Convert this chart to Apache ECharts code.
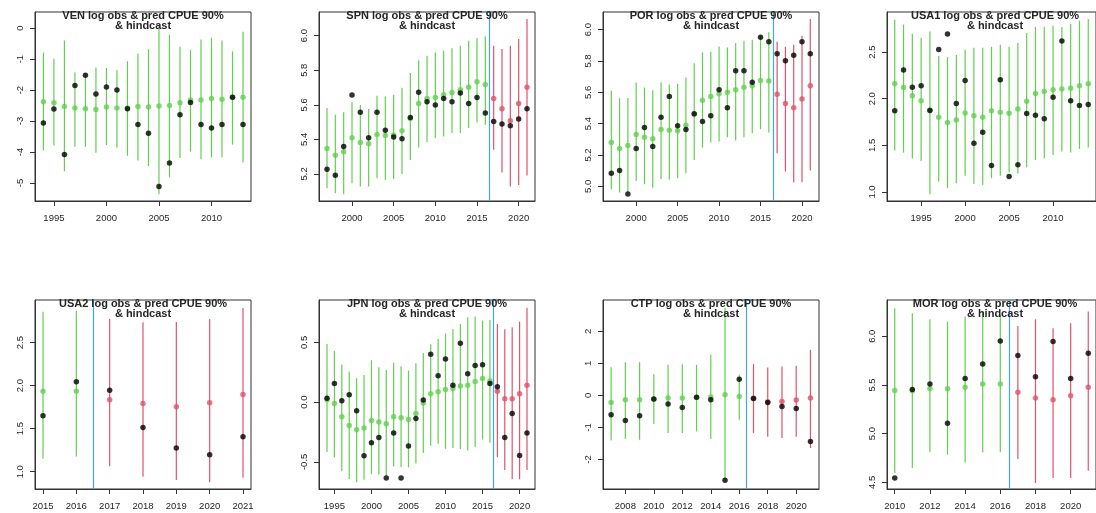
<!DOCTYPE html>
<html>
<head>
<meta charset="utf-8">
<script src="https://cdn.jsdelivr.net/npm/echarts@6/dist/echarts.min.js"></script>
<style>
  html, body { margin: 0; padding: 0; background: #ffffff; }
  #chart { width: 1096px; height: 513px; }
</style>
</head>
<body>
<div id="chart"></div>
<script>
// ---- VEN ----
const VEN_YEARS = [1994,1995,1996,1997,1998,1999,2000,2001,2002,2003,2004,2005,2006,2007,2008,2009,2010,2011,2012,2013];
const VEN_OBS  = [-3.06,-2.61,-4.08,-1.85,-1.52,-2.13,-1.90,-2.00,-2.60,-3.11,-3.39,-5.11,-4.35,-2.80,-2.40,-3.11,-3.22,-3.11,-2.23,-3.11];
const VEN_PRED = [-2.38,-2.41,-2.53,-2.58,-2.60,-2.63,-2.55,-2.58,-2.58,-2.53,-2.55,-2.51,-2.50,-2.41,-2.32,-2.32,-2.27,-2.30,-2.23,-2.23];
const VEN_LO   = [-3.95,-3.79,-4.62,-3.83,-3.83,-4.02,-3.77,-3.86,-4.12,-4.27,-4.45,-5.36,-4.82,-4.19,-3.99,-4.23,-4.17,-4.17,-3.76,-4.34];
const VEN_HI   = [-0.79,-0.99,-0.40,-1.43,-1.45,-1.27,-1.29,-1.35,-1.07,-0.82,-0.68,0.06,-0.22,-0.60,-0.70,-0.37,-0.31,-0.40,-0.75,-0.12];
const VEN_X_TICKS = [1995,2000,2005,2010];
const VEN_Y_TICKS = [-5,-4,-3,-2,-1,0];

// ---- SPN ----
const SPN_YEARS = [1997,1998,1999,2000,2001,2002,2003,2004,2005,2006,2007,2008,2009,2010,2011,2012,2013,2014,2015,2016,2017,2018,2019,2020,2021];
const SPN_OBS  = [5.227,5.192,5.358,5.656,5.557,5.409,5.557,5.453,5.414,5.403,5.527,5.673,5.617,5.598,5.637,5.617,5.668,5.608,5.642,5.552,5.503,5.488,5.478,5.517,5.577];
const SPN_PRED = [5.347,5.308,5.328,5.409,5.382,5.374,5.428,5.422,5.425,5.449,5.520,5.608,5.637,5.642,5.658,5.671,5.687,5.702,5.733,5.718,5.637,5.577,5.507,5.608,5.702];
const SPN_LO   = [5.117,5.088,5.082,5.146,5.127,5.127,5.175,5.165,5.171,5.200,5.281,5.353,5.384,5.407,5.416,5.436,5.436,5.465,5.498,5.484,5.339,5.208,5.127,5.136,5.190];
const SPN_HI   = [5.581,5.542,5.557,5.617,5.598,5.577,5.652,5.648,5.658,5.698,5.784,5.857,5.884,5.903,5.913,5.927,5.942,5.971,5.986,5.996,5.942,5.923,5.942,5.981,6.097];
const SPN_X_TICKS = [2000,2005,2010,2015,2020];
const SPN_Y_TICKS = [5.2,5.4,5.6,5.8,6.0];

// ---- POR ----
const POR_YEARS = [1997,1998,1999,2000,2001,2002,2003,2004,2005,2006,2007,2008,2009,2010,2011,2012,2013,2014,2015,2016,2017,2018,2019,2020,2021];
const POR_OBS  = [5.083,5.100,4.951,5.241,5.375,5.254,5.441,5.574,5.386,5.362,5.463,5.414,5.450,5.616,5.501,5.738,5.738,5.665,5.951,5.923,5.846,5.802,5.836,5.923,5.846];
const POR_PRED = [5.279,5.241,5.260,5.330,5.313,5.303,5.362,5.358,5.354,5.390,5.460,5.550,5.574,5.591,5.601,5.616,5.633,5.642,5.676,5.672,5.588,5.529,5.501,5.557,5.642];
const POR_LO   = [4.981,4.960,4.960,5.034,5.013,4.991,5.047,5.041,5.051,5.083,5.168,5.247,5.279,5.286,5.313,5.292,5.313,5.339,5.365,5.343,5.211,5.094,5.026,5.026,5.100];
const POR_HI   = [5.610,5.563,5.563,5.663,5.631,5.614,5.665,5.650,5.655,5.695,5.785,5.855,5.859,5.893,5.887,5.915,5.930,5.936,5.966,5.983,5.923,5.891,5.904,5.962,6.068];
const POR_X_TICKS = [2000,2005,2010,2015,2020];
const POR_Y_TICKS = [5.0,5.2,5.4,5.6,5.8,6.0];

// ---- USA1 ----
const USA1_YEARS = [1992,1993,1994,1995,1996,1997,1998,1999,2000,2001,2002,2003,2004,2005,2006,2007,2008,2009,2010,2011,2012,2013,2014];
const USA1_OBS  = [1.870,2.307,2.124,2.138,1.873,2.529,2.693,1.949,2.196,1.523,1.641,1.283,2.203,1.165,1.293,1.841,1.823,1.784,2.017,2.618,1.977,1.927,1.938];
const USA1_PRED = [2.160,2.120,2.031,1.977,1.880,1.802,1.745,1.773,1.848,1.816,1.802,1.870,1.856,1.845,1.891,1.974,2.056,2.078,2.095,2.103,2.113,2.138,2.160];
const USA1_LO   = [1.444,1.422,1.358,1.333,0.975,1.111,1.039,1.093,1.175,1.086,1.075,1.147,1.175,1.211,1.197,1.265,1.344,1.361,1.397,1.433,1.422,1.462,1.476];
const USA1_HI   = [2.847,2.794,2.697,2.654,2.722,2.457,2.446,2.468,2.525,2.547,2.547,2.557,2.579,2.557,2.597,2.704,2.769,2.769,2.783,2.769,2.804,2.837,2.854];
const USA1_X_TICKS = [1995,2000,2005,2010];
const USA1_Y_TICKS = [1.0,1.5,2.0,2.5];

// ---- USA2 ----
const USA2_YEARS = [2015,2016,2017,2018,2019,2020,2021];
const USA2_OBS  = [1.650,2.044,1.947,1.514,1.275,1.197,1.406];
const USA2_PRED = [1.936,1.936,1.835,1.793,1.754,1.800,1.897];
const USA2_LO   = [1.151,1.178,1.062,0.942,0.904,0.877,0.931];
const USA2_HI   = [2.859,2.871,2.774,2.736,2.740,2.774,2.902];
const USA2_X_TICKS = [2015,2016,2017,2018,2019,2020,2021];
const USA2_Y_TICKS = [1.0,1.5,2.0,2.5];

// ---- JPN ----
const JPN_YEARS = [1994,1995,1996,1997,1998,1999,2000,2001,2002,2003,2004,2005,2006,2007,2008,2009,2010,2011,2012,2013,2014,2015,2016,2017,2018,2019,2020,2021];
const JPN_OBS  = [0.033,0.156,0.011,0.061,-0.072,-0.448,-0.340,-0.295,-0.635,-0.259,-0.635,-0.368,-0.136,0.019,0.401,0.220,0.362,0.142,0.493,0.237,0.306,0.312,0.156,0.128,-0.295,-0.095,-0.446,-0.259];
const JPN_PRED = [0.020,-0.011,-0.123,-0.195,-0.231,-0.217,-0.153,-0.167,-0.181,-0.123,-0.131,-0.145,-0.095,-0.008,0.070,0.086,0.106,0.114,0.136,0.142,0.173,0.198,0.178,0.092,0.028,0.028,0.070,0.142];
const JPN_LO   = [-0.418,-0.462,-0.577,-0.643,-0.671,-0.649,-0.602,-0.607,-0.621,-0.538,-0.543,-0.546,-0.513,-0.426,-0.365,-0.348,-0.390,-0.384,-0.393,-0.404,-0.376,-0.312,-0.340,-0.462,-0.568,-0.646,-0.646,-0.568];
const JPN_HI   = [0.487,0.429,0.315,0.256,0.201,0.228,0.351,0.292,0.270,0.329,0.301,0.265,0.326,0.412,0.485,0.529,0.574,0.613,0.655,0.710,0.716,0.682,0.688,0.655,0.610,0.627,0.674,0.791];
const JPN_X_TICKS = [1995,2000,2005,2010,2015,2020];
const JPN_Y_TICKS = [-0.5,0.0,0.5];

// ---- CTP ----
const CTP_YEARS = [2007,2008,2009,2010,2011,2012,2013,2014,2015,2016,2017,2018,2019,2020,2021];
const CTP_OBS  = [-0.603,-0.779,-0.634,-0.114,-0.270,-0.374,-0.052,-0.135,-2.649,0.509,-0.094,-0.218,-0.343,-0.405,-1.434];
const CTP_PRED = [-0.218,-0.135,-0.135,-0.120,-0.083,-0.083,-0.060,-0.050,0.021,-0.031,-0.090,-0.200,-0.187,-0.145,-0.083];
const CTP_LO   = [-1.403,-1.351,-1.382,-0.894,-1.174,-1.174,-1.122,-1.361,-2.680,-0.758,-1.174,-1.288,-1.330,-1.288,-1.642];
const CTP_HI   = [0.883,1.039,1.039,0.665,0.956,0.977,0.956,1.268,2.740,0.644,0.977,0.873,0.904,0.925,1.423];
const CTP_X_TICKS = [2008,2010,2012,2014,2016,2018,2020];
const CTP_Y_TICKS = [-2,-1,0,1,2];

// ---- MOR ----
const MOR_YEARS = [2010,2011,2012,2013,2014,2015,2016,2017,2018,2019,2020,2021];
const MOR_OBS  = [4.545,5.453,5.511,5.108,5.566,5.716,5.952,5.802,5.583,5.945,5.566,5.826];
const MOR_PRED = [5.443,5.440,5.460,5.460,5.477,5.511,5.511,5.426,5.365,5.347,5.388,5.477];
const MOR_LO   = [4.596,4.647,4.808,4.784,4.705,4.808,4.808,4.739,4.493,4.545,4.545,4.620];
const MOR_HI   = [6.287,6.236,6.174,6.150,6.202,6.243,6.220,6.106,6.174,6.082,6.133,6.253];
const MOR_X_TICKS = [2010,2012,2014,2016,2018,2020];
const MOR_Y_TICKS = [4.5,5.0,5.5,6.0];

// Years after this boundary are the hindcast (drawn in red, split by a blue line)
const HINDCAST_SPLIT = 2016.5;

const GREEN = '#61D04F';
const RED = '#DF536B';
const BLUE = '#45A5EC';
const INK = '#262626';
const FONT = '"Liberation Sans", Arial, sans-serif';

const panels = [
  { name: 'VEN',  years: VEN_YEARS,  obs: VEN_OBS,  pred: VEN_PRED,  lo: VEN_LO,  hi: VEN_HI,  xTicks: VEN_X_TICKS,  yTicks: VEN_Y_TICKS,  dec: 0, x: [1993.2, 2013.76], y: [-5.58, 0.52] },
  { name: 'SPN',  years: SPN_YEARS,  obs: SPN_OBS,  pred: SPN_PRED,  lo: SPN_LO,  hi: SPN_HI,  xTicks: SPN_X_TICKS,  yTicks: SPN_Y_TICKS,  dec: 1, x: [1996.04, 2021.96], y: [5.043, 6.137] },
  { name: 'POR',  years: POR_YEARS,  obs: POR_OBS,  pred: POR_PRED,  lo: POR_LO,  hi: POR_HI,  xTicks: POR_X_TICKS,  yTicks: POR_Y_TICKS,  dec: 1, x: [1996.0, 2022.05], y: [4.906, 6.113] },
  { name: 'USA1', years: USA1_YEARS, obs: USA1_OBS, pred: USA1_PRED, lo: USA1_LO, hi: USA1_HI, xTicks: USA1_X_TICKS, yTicks: USA1_Y_TICKS, dec: 1, x: [1991.12, 2014.88], y: [0.903, 2.930] },
  { name: 'USA2', years: USA2_YEARS, obs: USA2_OBS, pred: USA2_PRED, lo: USA2_LO, hi: USA2_HI, xTicks: USA2_X_TICKS, yTicks: USA2_Y_TICKS, dec: 1, x: [2014.76, 2021.24], y: [0.799, 2.995] },
  { name: 'JPN',  years: JPN_YEARS,  obs: JPN_OBS,  pred: JPN_PRED,  lo: JPN_LO,  hi: JPN_HI,  xTicks: JPN_X_TICKS,  yTicks: JPN_Y_TICKS,  dec: 1, x: [1992.92, 2022.08], y: [-0.727, 0.855] },
  { name: 'CTP',  years: CTP_YEARS,  obs: CTP_OBS,  pred: CTP_PRED,  lo: CTP_LO,  hi: CTP_HI,  xTicks: CTP_X_TICKS,  yTicks: CTP_Y_TICKS,  dec: 0, x: [2006.43, 2021.6], y: [-2.92, 2.98] },
  { name: 'MOR',  years: MOR_YEARS,  obs: MOR_OBS,  pred: MOR_PRED,  lo: MOR_LO,  hi: MOR_HI,  xTicks: MOR_X_TICKS,  yTicks: MOR_Y_TICKS,  dec: 1, x: [2009.56, 2021.44], y: [4.432, 6.372] }
];

// Panel frame geometry: 4 columns x 2 rows
const COL_LEFT = [35, 319, 603, 887];
const ROW_TOP = [12, 300];
const BOX_W = 216;
const BOX_H = 189;

const grids = [], xAxes = [], yAxes = [], series = [], titles = [];

panels.forEach((p, i) => {
  const left = COL_LEFT[i % 4];
  const top = ROW_TOP[Math.floor(i / 4)];
  grids.push({
    left: left, top: top, width: BOX_W, height: BOX_H,
    show: true, borderColor: '#333', borderWidth: 1, backgroundColor: 'transparent',
    containLabel: false
  });

  titles.push({
    text: p.name + ' log obs & pred CPUE 90%\n& hindcast',
    left: left + BOX_W / 2,
    top: top - 1.5,
    textAlign: 'center',
    padding: 0,
    textStyle: { fontFamily: FONT, fontSize: 11, fontWeight: 'bold', color: INK, lineHeight: 10.5 }
  });

  xAxes.push({
    gridIndex: i, type: 'value', min: p.x[0], max: p.x[1],
    axisLine: { show: true, onZero: false, lineStyle: { color: '#333', width: 1 } },
    splitLine: { show: false },
    axisTick: { show: true, length: 5, customValues: p.xTicks, lineStyle: { color: '#333' } },
    axisLabel: {
      customValues: p.xTicks, margin: 12, color: INK, fontSize: 9.5, fontFamily: FONT,
      formatter: v => String(Math.round(v))
    }
  });

  yAxes.push({
    gridIndex: i, type: 'value', min: p.y[0], max: p.y[1],
    axisLine: { show: true, onZero: false, lineStyle: { color: '#333', width: 1 } },
    splitLine: { show: false },
    axisTick: { show: true, length: 5, customValues: p.yTicks, lineStyle: { color: '#333' } },
    axisLabel: {
      customValues: p.yTicks, margin: 10, rotate: 90, color: INK, fontSize: 9.5, fontFamily: FONT,
      formatter: v => Number(v).toFixed(p.dec)
    }
  });

  const barData = p.years.map((yr, k) => [yr, p.lo[k], p.hi[k]]);
  const predData = p.years.map((yr, k) => [yr, p.pred[k]]);
  const obsData = p.years.map((yr, k) => [yr, p.obs[k]]);
  const hasHindcast = p.years[p.years.length - 1] > HINDCAST_SPLIT;

  // 90% interval bars
  series.push({
    type: 'custom', xAxisIndex: i, yAxisIndex: i, z: 2, silent: true,
    data: barData,
    renderItem: (params, api) => {
      const yr = api.value(0);
      const a = api.coord([yr, api.value(1)]);
      const b = api.coord([yr, api.value(2)]);
      return {
        type: 'line',
        shape: { x1: a[0], y1: a[1], x2: b[0], y2: b[1] },
        style: { stroke: yr > HINDCAST_SPLIT ? RED : GREEN, lineWidth: 1.2 }
      };
    }
  });

  // predicted values
  series.push({
    type: 'scatter', xAxisIndex: i, yAxisIndex: i, z: 3, silent: true,
    symbol: 'circle', symbolSize: 5.5,
    data: predData,
    itemStyle: { color: params => (params.value[0] > HINDCAST_SPLIT ? RED : GREEN) }
  });

  // observed values, with the hindcast boundary
  const obsSeries = {
    type: 'scatter', xAxisIndex: i, yAxisIndex: i, z: 4, silent: true,
    symbol: 'circle', symbolSize: 5.5,
    data: obsData,
    itemStyle: { color: '#000' }
  };
  if (hasHindcast) {
    obsSeries.markLine = {
      silent: true, symbol: 'none', animation: false,
      label: { show: false },
      lineStyle: { color: BLUE, type: 'solid', width: 1.2 },
      data: [{ xAxis: HINDCAST_SPLIT }]
    };
  }
  series.push(obsSeries);
});

const chart = echarts.init(document.getElementById('chart'), null, { renderer: 'canvas' });
chart.setOption({
  animation: false,
  backgroundColor: '#ffffff',
  textStyle: { fontFamily: FONT },
  title: titles,
  grid: grids,
  xAxis: xAxes,
  yAxis: yAxes,
  series: series
});
</script>
</body>
</html>
